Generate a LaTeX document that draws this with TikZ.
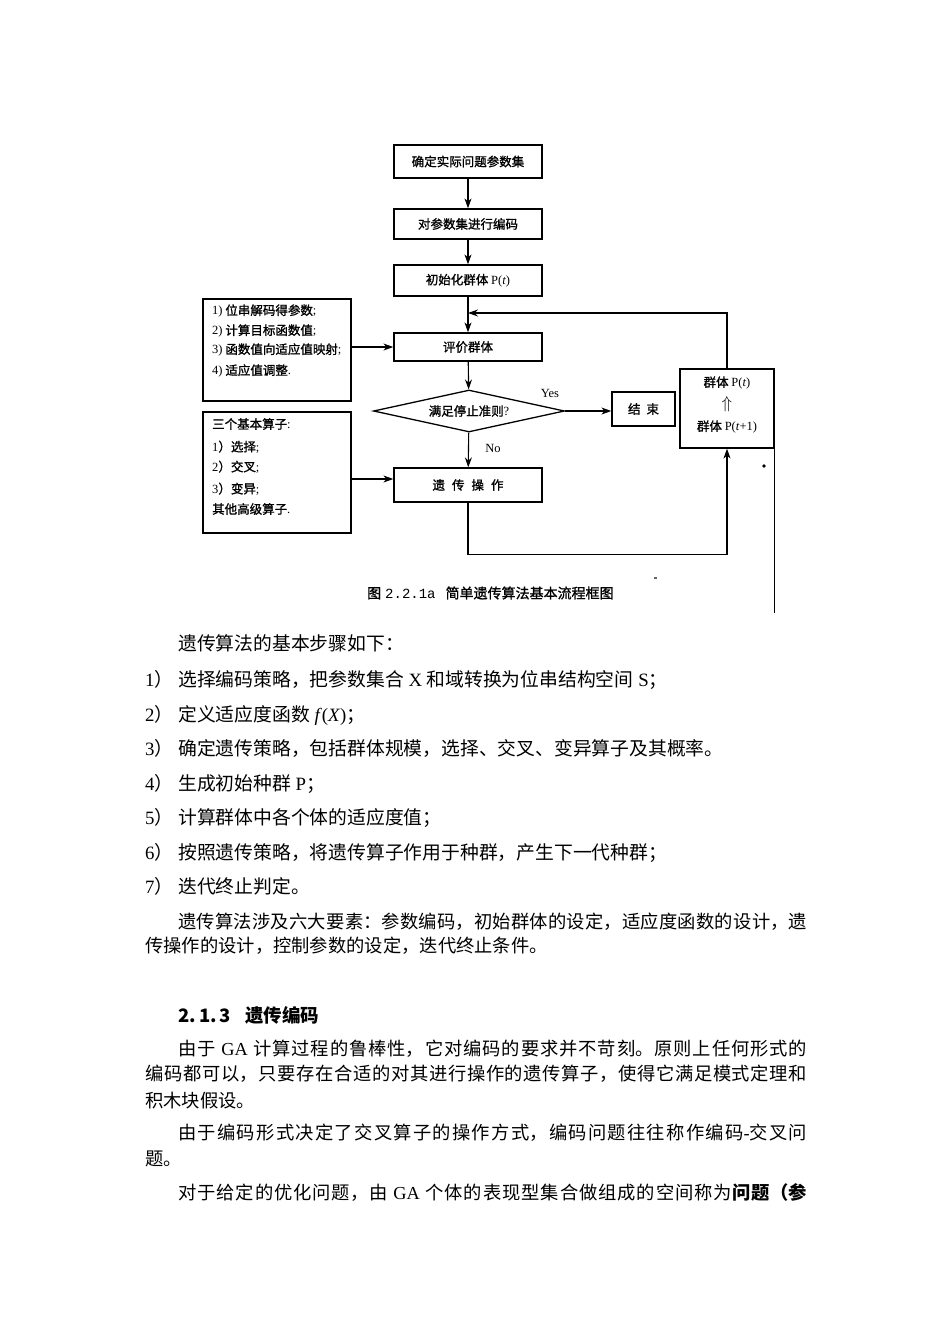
\documentclass[tikz,border=0pt]{standalone}
\usepackage{fontspec}
\setmainfont{Liberation Serif}
\newfontfamily\cjk{Noto Sans CJK SC}
\newfontfamily\cjkm{Noto Sans CJK SC}[FakeBold=1.2]
\newfontfamily\mono{Liberation Mono}
\usetikzlibrary{arrows.meta,shapes.geometric,calc}
\XeTeXlinebreaklocale "zh"
\XeTeXlinebreakskip=0pt plus 2pt minus 0.3pt
\newcommand\tm[1]{{\rmfamily #1}}
\newcommand\fc{\cjkm\fontsize{12.5}{15}\selectfont}
\newcommand\bodyf{\cjk\fontsize{18.3}{22}\selectfont}
\newcommand\listf{\cjk\fontsize{18.8}{22}\selectfont}
\begin{document}
\begin{tikzpicture}[x=1pt,y=-1pt,
  box/.style={draw, line width=1.3pt, minimum width=148pt, inner sep=0pt, font=\fc},
  arr/.style={line width=1.1pt, -{Stealth[length=10pt,width=7pt]}},
  ln/.style={line width=1.1pt},
  lab/.style={inner sep=0pt, font=\rmfamily\fontsize{12.5}{15}\selectfont},
  ltxt/.style={inner sep=0pt, anchor=west, font=\fc},
  body/.style={inner sep=0pt, anchor=base west, font=\bodyf},
  lst/.style={inner sep=0pt, anchor=base west, font=\listf},
  full/.style={body, text width=#1, align=justify}]
\useasboundingbox[fill=white] (0,0) rectangle (950,1344);

% ---------------- flowchart ----------------
\node[box, minimum height=33pt] (b1) at (468,161.5) {确定实际问题参数集};
\node[box, minimum height=30pt] (b2) at (468,224) {对参数集进行编码};
\node[box, minimum height=31pt] (b3) at (468,280.5) {初始化群体 \tm{P(\textit{t})}};
\node[box, minimum height=28pt] (ev) at (468,347) {评价群体};
\node[draw, diamond, line width=1.3pt, minimum width=191pt, minimum height=42pt,
      aspect=4.5, inner sep=0pt, font=\fc] (dm) at (469,411) {满足停止准则\tm{?}};
\node[box, minimum height=34pt] (ge) at (468,485) {遗\hspace{7pt}传\hspace{7pt}操\hspace{7pt}作};
\node[box, minimum width=63pt, minimum height=34pt] (en) at (643.5,409) {结\hspace{6pt}束};
\node[box, minimum width=94pt, minimum height=79pt] (rb) at (727,408.5) {};
\node[inner sep=0pt, font=\fc] (rt1) at (727,383) {群体 \tm{P(\textit{t})}};
\node[inner sep=0pt, font=\fontsize{16}{18}\selectfont] (rt2) at (727,404) {$\Uparrow$};
\node[inner sep=0pt, font=\fc] (rt3) at (727,427) {群体 \tm{P(\textit{t}+1)}};

\node[box, minimum height=102pt] (l1) at (277,350) {};
\node[ltxt] (l1a) at (212,311) {\tm{1)} 位串解码得参数\tm{;}};
\node[ltxt] (l1b) at (212,331) {\tm{2)} 计算目标函数值\tm{;}};
\node[ltxt] (l1c) at (212,350) {\tm{3)} 函数值向适应值映射\tm{;}};
\node[ltxt] (l1d) at (212,371) {\tm{4)} 适应值调整\tm{.}};

\node[box, minimum height=121pt] (l2) at (277,472.5) {};
\node[ltxt] (l2a) at (212,424) {三个基本算子\tm{:}};
\node[ltxt] (l2b) at (212,447) {\tm{1}）选择\tm{;}};
\node[ltxt] (l2c) at (212,467) {\tm{2}）交叉\tm{;}};
\node[ltxt] (l2d) at (212,489) {\tm{3}）变异\tm{;}};
\node[ltxt] (l2e) at (212,509) {其他高级算子\tm{.}};

\coordinate (j1) at (468,313);
\draw[arr] (b1) -- (b2);
\draw[arr] (b2) -- (b3);
\draw[arr] (b3) -- (ev);
\draw[arr] (rb.north) |- (j1);
\draw[arr] (ev) -- (dm);
\draw[arr] (dm) -- (ge);
\draw[arr] (dm.east) -- (en.west |- dm.east);
\draw[arr] (l1.east |- ev) -- (ev.west);
\draw[arr] (l2.east |- 0,479) -- (ge.west |- 0,479);
\draw[arr] (ge.south) -- ++(0,52) -| (rb.south);
\draw[line width=0.9pt] (rb.south east) -- ++(0,164);
\fill (764,466) circle (1.8pt);
\fill[black!60] (654,577) rectangle (657,578.5);

\node[lab] (yes) at (550,393) {Yes};
\node[lab] (no) at (493,448) {No};

\node[inner sep=0pt, anchor=west, font=\fontsize{14}{16}\selectfont] (cap) at (367,593)
  {{\cjkm 图}\hspace{4pt}{\mono 2.2.1a}\hspace{10pt}{\cjkm 简单遗传算法基本流程框图}};

% ---------------- body text ----------------
\node[lst] (t0) at (178,650) {遗传算法的基本步骤如下：};
\node[lst] (n1) at (145,686) {\tm{1}）};
\node[lst] (s1) at (178,686) {选择编码策略，把参数集合\tm{ X }和域转换为位串结构空间\tm{ S}；};
\node[lst] (n2) at (145,721) {\tm{2}）};
\node[lst] (s2) at (178,721) {定义适应度函数\tm{ \textit{f}(\textit{X})}；};
\node[lst] (n3) at (145,755) {\tm{3}）};
\node[lst] (s3) at (178,755) {确定遗传策略，包括群体规模，选择、交叉、变异算子及其概率。};
\node[lst] (n4) at (145,790) {\tm{4}）};
\node[lst] (s4) at (178,790) {生成初始种群\tm{ P}；};
\node[lst] (n5) at (145,824) {\tm{5}）};
\node[lst] (s5) at (178,824) {计算群体中各个体的适应度值；};
\node[lst] (n6) at (145,859) {\tm{6}）};
\node[lst] (s6) at (178,859) {按照遗传策略，将遗传算子作用于种群，产生下一代种群；};
\node[lst] (n7) at (145,893) {\tm{7}）};
\node[lst] (s7) at (178,893) {迭代终止判定。};

\node[full=629pt] (p1a) at (178,928) {\parfillskip=0pt\relax 遗传算法涉及六大要素：参数编码，初始群体的设定，适应度函数的设计，遗\par};
\node[body] (p1b) at (145,952) {传操作的设计，控制参数的设定，迭代终止条件。};

\node[body, font=\cjk\bfseries\fontsize{18.5}{22}\selectfont] (h) at (178,1022) {2.\,1.\,3\hspace{14pt}遗传编码};

\node[full=629pt] (p2a) at (178,1055) {\parfillskip=0pt\relax 由于\tm{ GA }计算过程的鲁棒性，它对编码的要求并不苛刻。原则上任何形式的\par};
\node[full=662pt] (p2b) at (145,1080) {\parfillskip=0pt\relax 编码都可以，只要存在合适的对其进行操作的遗传算子，使得它满足模式定理和\par};
\node[body] (p2c) at (145,1107) {积木块假设。};

\node[full=629pt] (p3a) at (178,1139) {\parfillskip=0pt\relax 由于编码形式决定了交叉算子的操作方式，编码问题往往称作编码\tm{-}交叉问\par};
\node[body] (p3b) at (145,1165) {题。};

\node[full=629pt] (p4a) at (178,1199) {\parfillskip=0pt\relax 对于给定的优化问题，由\tm{ GA }个体的表现型集合做组成的空间称为{\bfseries 问题（参}\par};
\end{tikzpicture}
\end{document}
